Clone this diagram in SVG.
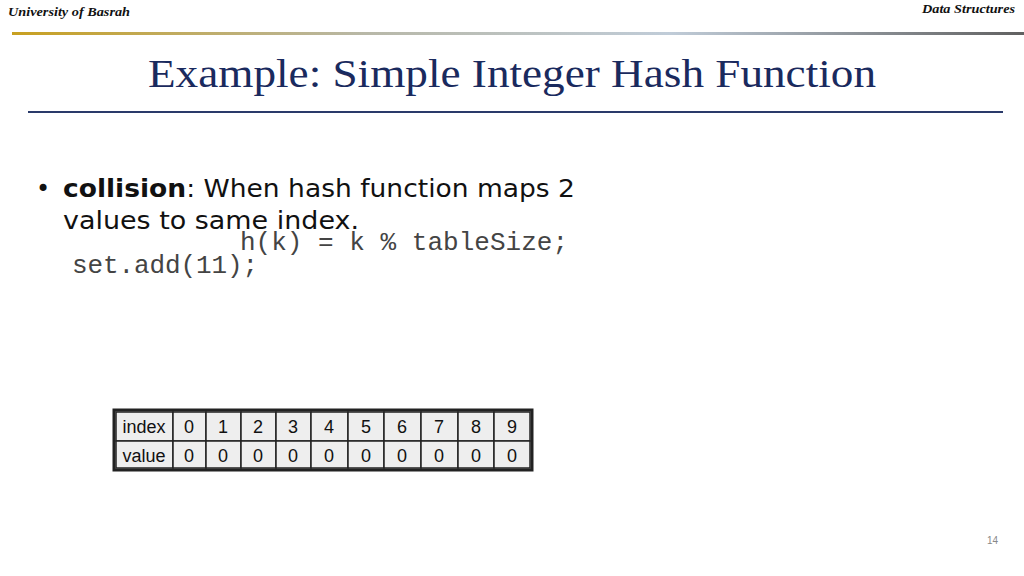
<svg xmlns="http://www.w3.org/2000/svg" width="1024" height="576" viewBox="0 0 1024 576">
<defs>
<linearGradient id="g" x1="0" x2="1"><stop offset="0" stop-color="#c8a020"/><stop offset="0.35" stop-color="#b8b8a8"/><stop offset="0.65" stop-color="#c0ccd8"/><stop offset="1" stop-color="#606060"/></linearGradient>
<style>
.c{fill:#eeeeee;stroke:#222;stroke-width:1.5}
.t{font-family:"Liberation Sans",sans-serif;font-size:18px;fill:#111;text-anchor:middle}
.m{font-family:"Liberation Mono",monospace;font-size:26px;fill:#444}
.b{font-family:"DejaVu Sans",sans-serif;font-size:24px;fill:#111}
</style>
</defs>
<rect width="1024" height="576" fill="#fff"/>
<text x="8" y="16" font-family="Liberation Serif,serif" font-style="italic" font-weight="bold" font-size="12" fill="#111" textLength="122" lengthAdjust="spacingAndGlyphs">University of Basrah</text>
<text x="922" y="13" font-family="Liberation Serif,serif" font-style="italic" font-weight="bold" font-size="12" fill="#111" textLength="93" lengthAdjust="spacingAndGlyphs">Data Structures</text>
<rect x="12" y="32" width="1012" height="3" fill="url(#g)"/>
<text x="148" y="87" font-family="Liberation Serif,serif" font-size="40" fill="#1a2a5e" textLength="728" lengthAdjust="spacingAndGlyphs">Example: Simple Integer Hash Function</text>
<rect x="28" y="111" width="975" height="2" fill="#2a3a6a"/>
<text x="36" y="197" class="b">•</text>
<text x="63" y="197" class="b" textLength="512" lengthAdjust="spacingAndGlyphs"><tspan font-weight="bold">collision</tspan>: When hash function maps 2</text>
<text x="63" y="229" class="b" textLength="296" lengthAdjust="spacingAndGlyphs">values to same  index.</text>
<text x="240" y="250" class="m" textLength="328">h(k) = k % tableSize;</text>
<text x="72" y="273" class="m" textLength="186">set.add(11);</text>
<g id="table">
<rect x="114" y="410" width="418" height="60" fill="none" stroke="#222" stroke-width="3"/>
<g id="row-index">
<rect class="c" x="116" y="412" width="57" height="29"/>
<text class="t" x="144" y="433">index</text>
<rect class="c" x="173" y="412" width="33" height="29"/><text class="t" x="189" y="433">0</text>
<rect class="c" x="206" y="412" width="35" height="29"/><text class="t" x="223" y="433">1</text>
<rect class="c" x="241" y="412" width="35" height="29"/><text class="t" x="258" y="433">2</text>
<rect class="c" x="276" y="412" width="35" height="29"/><text class="t" x="293" y="433">3</text>
<rect class="c" x="311" y="412" width="37" height="29"/><text class="t" x="329" y="433">4</text>
<rect class="c" x="348" y="412" width="36" height="29"/><text class="t" x="366" y="433">5</text>
<rect class="c" x="384" y="412" width="37" height="29"/><text class="t" x="402" y="433">6</text>
<rect class="c" x="421" y="412" width="37" height="29"/><text class="t" x="439" y="433">7</text>
<rect class="c" x="458" y="412" width="36" height="29"/><text class="t" x="476" y="433">8</text>
<rect class="c" x="494" y="412" width="36" height="29"/><text class="t" x="512" y="433">9</text>
</g>
<g id="row-value">
<rect class="c" x="116" y="441" width="57" height="27"/>
<text class="t" x="144" y="462">value</text>
<rect class="c" x="173" y="441" width="33" height="27"/><text class="t" x="189" y="462">0</text>
<rect class="c" x="206" y="441" width="35" height="27"/><text class="t" x="223" y="462">0</text>
<rect class="c" x="241" y="441" width="35" height="27"/><text class="t" x="258" y="462">0</text>
<rect class="c" x="276" y="441" width="35" height="27"/><text class="t" x="293" y="462">0</text>
<rect class="c" x="311" y="441" width="37" height="27"/><text class="t" x="329" y="462">0</text>
<rect class="c" x="348" y="441" width="36" height="27"/><text class="t" x="366" y="462">0</text>
<rect class="c" x="384" y="441" width="37" height="27"/><text class="t" x="402" y="462">0</text>
<rect class="c" x="421" y="441" width="37" height="27"/><text class="t" x="439" y="462">0</text>
<rect class="c" x="458" y="441" width="36" height="27"/><text class="t" x="476" y="462">0</text>
<rect class="c" x="494" y="441" width="36" height="27"/><text class="t" x="512" y="462">0</text>
</g>
</g>
<text x="998" y="544" text-anchor="end" font-family="Liberation Sans,sans-serif" font-size="10" fill="#888">14</text>
</svg>
